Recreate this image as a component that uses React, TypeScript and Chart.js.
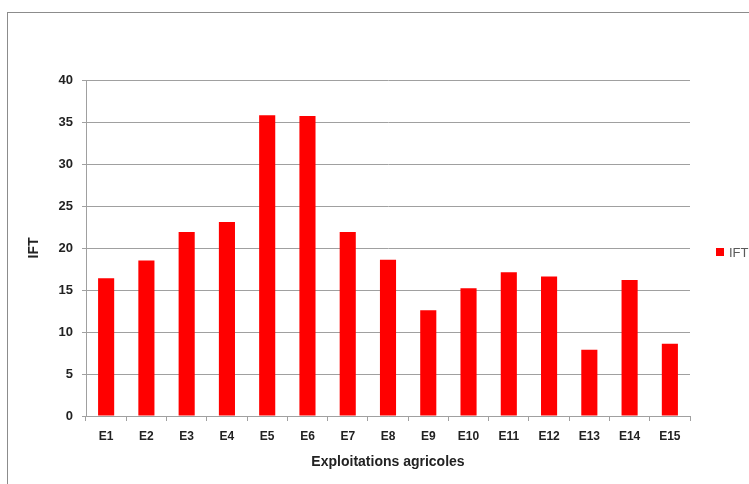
import React, { useEffect, useRef } from 'react';
import { Chart, registerables } from 'chart.js';
Chart.register(...registerables);

const categories = ['E1', 'E2', 'E3', 'E4', 'E5', 'E6', 'E7', 'E8', 'E9', 'E10', 'E11', 'E12', 'E13', 'E14', 'E15'];
const iftValues = [16.4, 18.5, 21.9, 23.1, 35.8, 35.7, 21.9, 18.6, 12.6, 15.2, 17.1, 16.6, 7.9, 16.2, 8.6];
const seriesLabel = 'IFT';
const xTitle = 'Exploitations agricoles';
const yTitle = 'IFT';
const yMin = 0;
const yMax = 40;
const yStep = 5;

const PAD = { left: 22, top: 80, right: 59, bottom: 9 };

const legendPlugin = {
  id: 'manualLegend',
  afterDraw(chart: any) {
    const ctx = chart.ctx;
    const ds = chart.data.datasets[0];
    ctx.save();
    ctx.fillStyle = ds.backgroundColor;
    ctx.fillRect(716, 248, 8, 8);
    ctx.fillStyle = '#595959';
    ctx.font = '13px "Liberation Sans", Arial, sans-serif';
    ctx.textBaseline = 'middle';
    ctx.textAlign = 'left';
    ctx.fillText(ds.label, 729, 253);
    ctx.restore();
  },
};

export default function App() {
  const ref = useRef<HTMLCanvasElement | null>(null);
  useEffect(() => {
    if (!ref.current) return;
    const chart = new Chart(ref.current, {
      type: 'bar',
      data: {
        labels: categories,
        datasets: [
          {
            label: seriesLabel,
            data: iftValues,
            backgroundColor: '#ff0000',
            borderWidth: 0,
            barPercentage: 0.4,
            categoryPercentage: 1,
          },
        ],
      },
      plugins: [legendPlugin],
      options: {
        responsive: false,
        animation: false,
        layout: { padding: PAD },
        plugins: { legend: { display: false }, tooltip: { enabled: false } },
        scales: {
          x: {
            grid: {
              display: true,
              drawOnChartArea: false,
              drawTicks: true,
              tickLength: 5,
              color: '#a0a0a0',
              offset: true,
            },
            border: { display: true, color: '#a0a0a0' },
            ticks: {
              padding: 8,
              color: '#222',
              font: { family: '"Liberation Sans", Arial, sans-serif', size: 12, weight: 'bold' },
              maxRotation: 0,
            },
            title: {
              display: true,
              text: xTitle,
              color: '#222',
              font: { family: '"Liberation Sans", Arial, sans-serif', size: 14, weight: 'bold' },
              padding: { top: 4, bottom: 4 },
            },
            afterFit(scale: any) {
              scale.height = 484 - 416 - PAD.bottom;
            },
          },
          y: {
            min: yMin,
            max: yMax,
            grid: { color: '#a0a0a0', tickLength: 4, drawTicks: true },
            border: { display: true, color: '#a0a0a0' },
            ticks: {
              stepSize: yStep,
              padding: 9,
              color: '#222',
              font: { family: '"Liberation Sans", Arial, sans-serif', size: 13, weight: 'bold' },
            },
            title: {
              display: true,
              text: yTitle,
              color: '#222',
              font: { family: '"Liberation Sans", Arial, sans-serif', size: 14, weight: 'bold' },
              padding: { top: 4, bottom: 4 },
            },
            afterFit(scale: any) {
              scale.width = 86 - PAD.left;
            },
          },
        },
      },
    } as any);
    return () => chart.destroy();
  }, []);
  return (
    <div style={{ position: 'fixed', left: 0, top: 0, width: 749, height: 484, background: '#fff' }}>
      <canvas ref={ref} width={749} height={484} style={{ position: 'absolute', left: 0, top: 0 }} />
      <div
        style={{
          position: 'absolute',
          left: 7,
          top: 12,
          width: 780,
          height: 500,
          border: '1px solid #8c8c8c',
          pointerEvents: 'none',
        }}
      />
    </div>
  );
}
